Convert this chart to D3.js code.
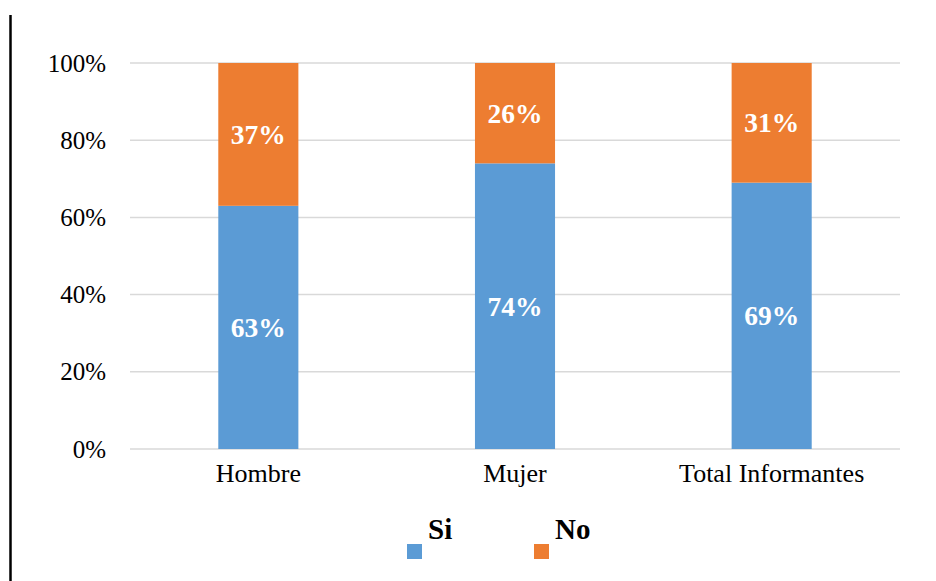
<!DOCTYPE html>
<html>
<head>
<meta charset="utf-8">
<script src="https://cdn.jsdelivr.net/npm/d3@7"></script>
<style>
  body { margin: 0; background: #fff; }
  svg { font-family: "Liberation Serif", "Times New Roman", serif; }
</style>
</head>
<body>
<svg></svg>
<script>
const width = 936;
const height = 581;

const categories = ['Hombre', 'Mujer', 'Total Informantes'];
const siValues = [0.63, 0.74, 0.69];
const noValues = [0.37, 0.26, 0.31];
const seriesNames = ['Si', 'No'];
const colors = ['#5b9bd5', '#ed7d31'];
const yTicks = [0, 0.2, 0.4, 0.6, 0.8, 1];

const margin = { top: 63, right: 36, bottom: 132, left: 130 };

const svg = d3.select('svg')
  .attr('width', width)
  .attr('height', height);

/* left border line */
svg.append('line')
  .attr('x1', 10.5).attr('x2', 10.5)
  .attr('y1', 15).attr('y2', height)
  .attr('stroke', '#000')
  .attr('stroke-width', 2.5);

const xScale = d3.scaleBand()
  .domain(categories)
  .range([margin.left, width - margin.right])
  .paddingInner(0.688)
  .paddingOuter(0.344);

const yScale = d3.scaleLinear()
  .domain([0, 1])
  .range([height - margin.bottom, margin.top]);

/* gridlines */
svg.append('g')
  .selectAll('line')
  .data(yTicks)
  .join('line')
    .attr('x1', margin.left)
    .attr('x2', width - margin.right)
    .attr('y1', d => yScale(d))
    .attr('y2', d => yScale(d))
    .attr('stroke', '#d9d9d9')
    .attr('stroke-width', 1.5);

/* y axis labels */
const yAxis = d3.axisLeft(yScale)
  .tickValues(yTicks)
  .tickFormat(d3.format('.0%'))
  .tickSize(0)
  .tickPadding(24);

svg.append('g')
  .attr('transform', `translate(${margin.left},0)`)
  .call(yAxis)
  .call(g => g.select('.domain').remove())
  .selectAll('text')
    .attr('font-family', '"Liberation Serif", serif')
    .attr('font-size', 25)
    .attr('fill', '#000');

/* x axis labels */
const xAxis = d3.axisBottom(xScale)
  .tickSize(0)
  .tickPadding(15);

svg.append('g')
  .attr('transform', `translate(0,${height - margin.bottom})`)
  .call(xAxis)
  .call(g => g.select('.domain').remove())
  .selectAll('text')
    .attr('font-family', '"Liberation Serif", serif')
    .attr('font-size', 26)
    .attr('fill', '#000');

/* stacked data */
const rows = categories.map((c, i) => ({ category: c, Si: siValues[i], No: noValues[i] }));
const stacked = d3.stack().keys(seriesNames)(rows);

const layers = svg.append('g')
  .selectAll('g')
  .data(stacked)
  .join('g')
    .attr('fill', (d, i) => colors[i]);

layers.selectAll('rect')
  .data(d => d)
  .join('rect')
    .attr('x', d => xScale(d.data.category))
    .attr('width', xScale.bandwidth())
    .attr('y', d => yScale(d[1]))
    .attr('height', d => yScale(d[0]) - yScale(d[1]));

/* value labels */
layers.selectAll('text')
  .data(d => d)
  .join('text')
    .attr('x', d => xScale(d.data.category) + xScale.bandwidth() / 2)
    .attr('y', d => yScale((d[0] + d[1]) / 2))
    .attr('dy', '0.35em')
    .attr('text-anchor', 'middle')
    .attr('fill', '#fff')
    .attr('font-weight', 'bold')
    .attr('font-size', 27.5)
    .text(d => d3.format('.0%')(d[1] - d[0]));

/* legend */
const legendX = [407, 534];
const legend = svg.append('g')
  .selectAll('g')
  .data(seriesNames)
  .join('g')
    .attr('transform', (d, i) => `translate(${legendX[i]},544)`);

legend.append('rect')
  .attr('width', 15)
  .attr('height', 15)
  .attr('fill', (d, i) => colors[i]);

legend.append('text')
  .attr('x', 21)
  .attr('y', -5)
  .attr('font-weight', 'bold')
  .attr('font-size', 29)
  .attr('fill', '#000')
  .text(d => d);
</script>
</body>
</html>
